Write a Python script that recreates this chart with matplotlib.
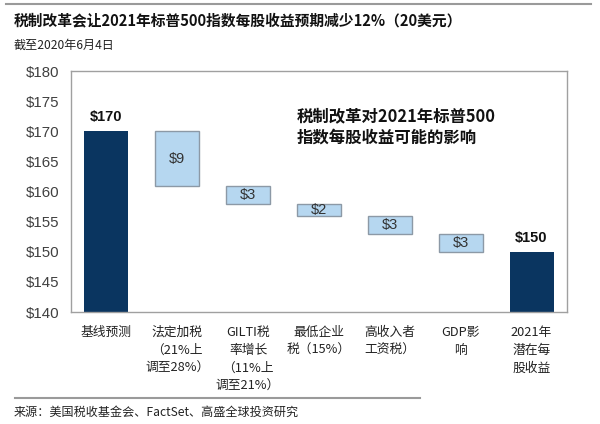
import matplotlib.pyplot as plt
from matplotlib.lines import Line2D

plt.rcParams['font.family'] = ['Noto Sans CJK SC', 'DejaVu Sans']

categories = ['基线预测', '法定加税\n（21%上\n调至28%）', 'GILTI税\n率增长\n（11%上\n调至21%）',
              '最低企业\n税（15%）', '高收入者\n工资税）', 'GDP影\n响', '2021年\n潜在每\n股收益']
bar_top = [170, 170, 161, 158, 156, 153, 150]
bar_bottom = [140, 161, 158, 156, 153, 150, 140]
bar_text = ['$170', '$9', '$3', '$2', '$3', '$3', '$150']
is_total = [True, False, False, False, False, False, True]
yticks = [140, 145, 150, 155, 160, 165, 170, 175, 180]

navy = '#0a3560'
light = '#b6d7f0'

fig = plt.figure(figsize=(6, 4.24), dpi=100)
ax = fig.add_axes([0.118, 0.264, 0.827, 0.568])

x = range(len(categories))
for i in x:
    h = bar_top[i] - bar_bottom[i]
    if is_total[i]:
        ax.bar(i, h, bottom=bar_bottom[i], width=0.62, color=navy, zorder=2)
        ax.text(i, bar_top[i] + 1.2, bar_text[i], ha='center', va='bottom',
                fontsize=10.5, fontweight='bold', family=['Liberation Sans'], color='#111111')
    else:
        ax.bar(i, h, bottom=bar_bottom[i], width=0.62, color=light,
               edgecolor='#8c99a6', linewidth=1.0, zorder=2)
        ax.text(i, (bar_top[i] + bar_bottom[i]) / 2, bar_text[i], ha='center', va='center',
                fontsize=10.5, family=['Liberation Sans'], color='#333333')

ax.set_xlim(-0.5, 6.5)
ax.set_ylim(140, 180)
ax.set_yticks(yticks)
ax.set_yticklabels(['$%d' % v for v in yticks], family=['Liberation Sans'],
                   fontsize=10.8, color='#404040')
ax.set_xticks(list(x))
ax.set_xticklabels(categories, fontsize=9.2, linespacing=1.5, color='#222222', va='top')
ax.tick_params(axis='both', length=0)
ax.tick_params(axis='x', pad=10)
ax.tick_params(axis='y', pad=8)
for s in ax.spines.values():
    s.set_color('#a0a0a0')
    s.set_linewidth(1.0)

ax.text(0.455, 0.85, '税制改革对2021年标普500\n指数每股收益可能的影响', transform=ax.transAxes,
        fontsize=11.8, fontweight='bold', linespacing=1.25, va='top', ha='left', color='#111111')

fig.add_artist(Line2D([0.01, 0.985], [0.99, 0.99], color='#9a9a9a', linewidth=1.5))
fig.text(0.023, 0.951, '税制改革会让2021年标普500指数每股收益预期减少12%（20美元）',
         fontsize=10.6, fontweight='bold', va='center', color='#111111')
fig.text(0.023, 0.893, '截至2020年6月4日', fontsize=8.7, va='center', color='#222222')

fig.add_artist(Line2D([0.025, 0.70], [0.061, 0.061], color='#9a9a9a', linewidth=1.5))
fig.text(0.023, 0.028, '来源：美国税收基金会、FactSet、高盛全球投资研究', fontsize=8.7,
         va='center', color='#222222')

fig.savefig('out.png', dpi=100)
